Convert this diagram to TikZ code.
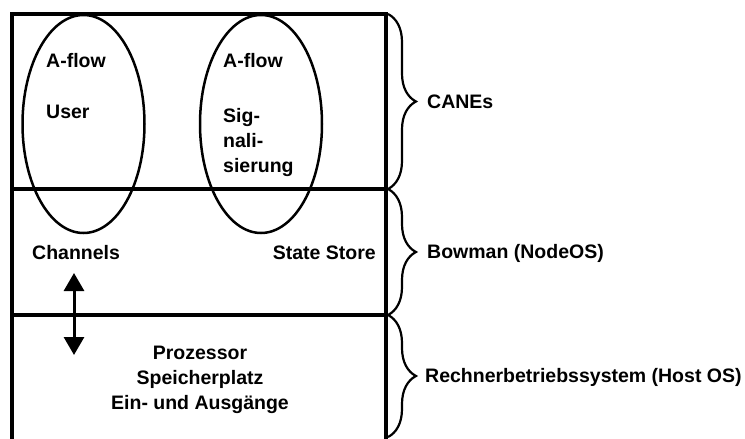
\documentclass[tikz,border=0pt]{standalone}
\usepackage{fontspec}
\setmainfont{Liberation Sans}
\usetikzlibrary{positioning,shapes.geometric,decorations.pathreplacing,arrows.meta}

\begin{document}
\begin{tikzpicture}[
    x=1pt, y=-1pt,
    every node/.style={font=\fontsize{19.5}{25}\selectfont\bfseries, inner sep=0pt},
    layer/.style={line width=4.5pt},
    aflow/.style={draw, ellipse, line width=2.5pt, minimum width=122pt, minimum height=218pt},
    layerbrace/.style={decorate, decoration={brace, amplitude=28pt}, line width=2.2pt}
  ]
    \useasboundingbox (0,0) rectangle (745,439);
    % layers
    \draw[layer] (12,439) -- (12,14) -- (386,14) -- (386,439);
    \draw[layer] (12,189) -- (386,189);
    \draw[layer] (12,315) -- (386,315);
    % CANEs
    \node[aflow] (userflow) at (83.5,124) {};
    \node[aflow] (sigflow) at (261,124) {};
    \node[anchor=base west] (userhead) at (46,67) {A-flow};
    \node[anchor=base west] (user) at (46,118) {User};
    \node[anchor=base west] (sighead) at (223,67) {A-flow};
    \node[anchor=base west, align=left] (sig) at (223,172) {Sig-\\nali-\\sierung};
    % NodeOS
    \node[anchor=base west] (channels) at (32,259) {Channels};
    \node[anchor=base east] (store) at (376,259) {State Store};
    \coordinate (chantop) at (74,273);
    \coordinate (chanbot) at (74,355);
    \draw[{Triangle[length=18pt,width=20pt]}-{Triangle[length=18pt,width=20pt]}, line width=3pt] (chantop) -- (chanbot);
    % Host OS
    \node[anchor=base, align=center] (hostres) at (200,409) {Prozessor\\Speicherplatz\\Ein- und Ausgänge};
    % braces
    \coordinate (b0) at (388,14);
    \coordinate (b1) at (388,189);
    \coordinate (b2) at (388,315);
    \coordinate (b3) at (388,437);
    \draw[layerbrace] (b0) -- (b1);
    \draw[layerbrace] (b1) -- (b2);
    \draw[layerbrace] (b2) -- (b3);
    \node[anchor=base west] (canes) at (427,108) {CANEs};
    \node[anchor=base west] (bowman) at (427,258) {Bowman (NodeOS)};
    \node[anchor=base west] (hostos) at (425,382) {Rechnerbetriebssystem (Host OS)};
\end{tikzpicture}
\end{document}
